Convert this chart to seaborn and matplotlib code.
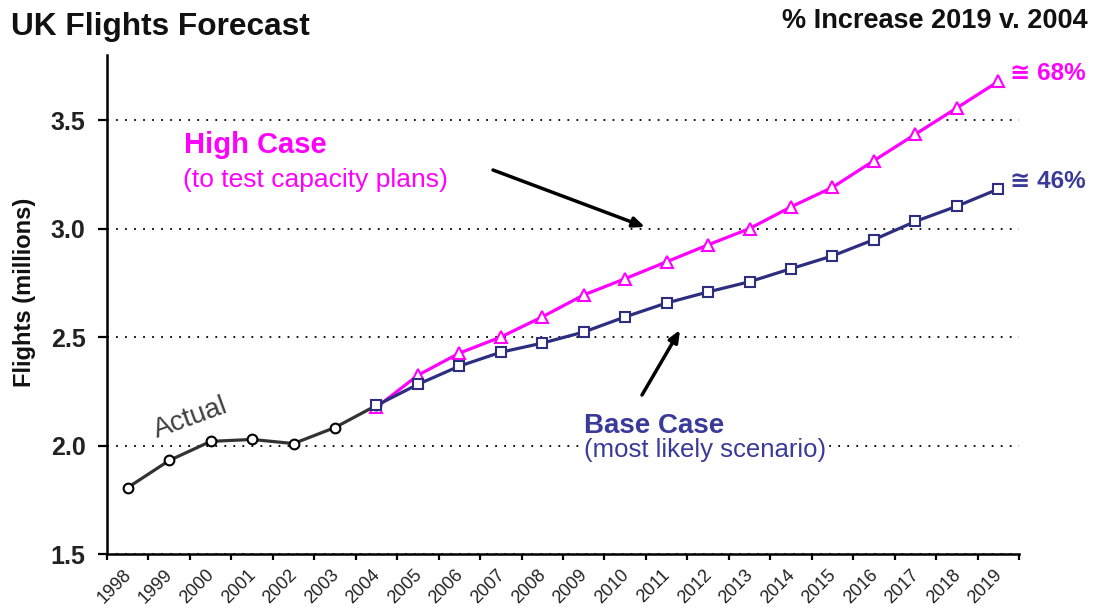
import matplotlib
matplotlib.use("Agg")
import numpy as np
import pandas as pd
import seaborn as sns
import matplotlib.pyplot as plt
from matplotlib.transforms import ScaledTranslation

# ---------------- data ----------------
years = list(range(1998, 2020))
actual_years = list(range(1998, 2005))
actual_values = [1.806, 1.931, 2.019, 2.028, 2.009, 2.083, 2.185]
forecast_years = list(range(2004, 2020))
base_values = [2.185, 2.282, 2.366, 2.430, 2.472, 2.523, 2.593, 2.657,
               2.708, 2.755, 2.815, 2.874, 2.949, 3.033, 3.103, 3.182]
high_values = [2.176, 2.324, 2.426, 2.500, 2.593, 2.694, 2.769, 2.847,
               2.925, 3.000, 3.100, 3.190, 3.313, 3.435, 3.556, 3.678]
y_ticks = [1.5, 2.0, 2.5, 3.0, 3.5]
high_pct = "68%"
base_pct = "46%"

MAGENTA = "#FF00FF"
NAVY = "#2E2E80"
NAVY_TXT = "#3A3A9A"
DARK = "#333333"

sns.set_style("white")
plt.rcParams["font.family"] = ["Liberation Sans", "DejaVu Sans"]

W, H = 1095, 613
fig = plt.figure(figsize=(W / 100, H / 100), dpi=100)
ax = fig.add_axes([107 / W, 1 - 554 / H, (1019 - 107) / W, (554 - 55) / H])

first = years[0]
df_actual = pd.DataFrame({"pos": [y - first for y in actual_years], "flights": actual_values})
df_base = pd.DataFrame({"pos": [y - first for y in forecast_years], "flights": base_values})
df_high = pd.DataFrame({"pos": [y - first for y in forecast_years], "flights": high_values})

sns.lineplot(data=df_high, x="pos", y="flights", ax=ax, color=MAGENTA, lw=2.3,
             marker="^", ms=8.5, mfc="white", mec=MAGENTA, mew=1.5, zorder=3)
sns.lineplot(data=df_actual, x="pos", y="flights", ax=ax, color=DARK, lw=2.3,
             marker="o", ms=7, mfc="white", mec="black", mew=1.5, zorder=4)
sns.lineplot(data=df_base, x="pos", y="flights", ax=ax, color=NAVY, lw=2.3,
             marker="s", ms=7, mfc="white", mec=NAVY, mew=1.5, zorder=5)

# ---------------- axes ----------------
ax.set_xlim(-0.5, len(years) - 0.5)
ax.set_ylim(1.5, 3.8)
ax.set_xlabel("")
ax.set_ylabel("")

ax.set_xticks(np.arange(len(years) + 1) - 0.5)
ax.set_xticklabels([])
ax.set_xticks(np.arange(len(years)), minor=True)
ax.set_xticklabels([str(y) for y in years], minor=True)
ax.tick_params(axis="x", which="major", length=4, width=1.6, direction="out",
               color="black", bottom=True)
ax.tick_params(axis="x", which="minor", length=0, labelsize=13, pad=9)
off = ScaledTranslation(-5 / 100, 0, fig.dpi_scale_trans)
for lab in ax.get_xticklabels(minor=True):
    lab.set_rotation(45)
    lab.set_ha("right")
    lab.set_va("top")
    lab.set_rotation_mode("anchor")
    lab.set_color("#222222")
    lab.set_transform(lab.get_transform() + off)

ax.set_yticks(y_ticks)
ax.set_yticklabels([f"{v:.1f}" for v in y_ticks])
ax.tick_params(axis="y", length=6.5, width=1.6, direction="out", color="black",
               labelsize=18, pad=9, left=True)
for lab in ax.get_yticklabels():
    lab.set_fontweight("bold")
    lab.set_color("#222222")

ax.grid(axis="y", linestyle=(0, (1, 4)), color="black", lw=1.3)
ax.grid(axis="x", visible=False)
sns.despine(ax=ax)
for s in ("left", "bottom"):
    ax.spines[s].set_linewidth(1.8)
    ax.spines[s].set_color("black")


def fx(x, y):
    return x / W, 1 - y / H


white_box = dict(facecolor="white", edgecolor="none", pad=1)

# ---------------- texts ----------------
fig.text(*fx(11, 35), "UK Flights Forecast", fontsize=22.8, fontweight="bold",
         color="#111111", ha="left", va="baseline")
fig.text(*fx(1088, 28), "% Increase 2019 v. 2004", fontsize=19.5, fontweight="bold",
         color="#111111", ha="right", va="baseline")
fig.text(*fx(25, 292), "Flights (millions)", fontsize=17, fontweight="bold",
         color="#111111", rotation=90, ha="center", va="center")

fig.text(*fx(1010, 80), "\u2245 " + high_pct, fontsize=17.5, fontweight="bold",
         color=MAGENTA, ha="left", va="baseline")
fig.text(*fx(1010, 188), "\u2245 " + base_pct, fontsize=17.5, fontweight="bold",
         color=NAVY_TXT, ha="left", va="baseline")

fig.text(*fx(184, 153), "High Case", fontsize=21, fontweight="bold",
         color=MAGENTA, ha="left", va="baseline")
fig.text(*fx(183, 187), "(to test capacity plans)", fontsize=19,
         color=MAGENTA, ha="left", va="baseline")
fig.text(*fx(584, 433), "Base Case", fontsize=20, fontweight="bold",
         color=NAVY_TXT, ha="left", va="baseline", bbox=white_box, zorder=6)
fig.text(*fx(584, 457), "(most likely scenario)", fontsize=18.5,
         color=NAVY_TXT, ha="left", va="baseline", bbox=white_box, zorder=6)
fig.text(*fx(191, 418), "Actual", fontsize=20, color="#404040", rotation=20,
         ha="center", va="center", bbox=white_box, zorder=6)

arrow = dict(arrowstyle="-|>,head_length=0.7,head_width=0.3", color="black",
             lw=2.5, shrinkA=0, shrinkB=0)
ax.annotate("", xy=(645, H - 227), xytext=(493, H - 170),
            xycoords="figure pixels", textcoords="figure pixels", arrowprops=arrow)
ax.annotate("", xy=(680, H - 330), xytext=(642, H - 395),
            xycoords="figure pixels", textcoords="figure pixels", arrowprops=arrow)

fig.savefig("out.png", dpi=100)
